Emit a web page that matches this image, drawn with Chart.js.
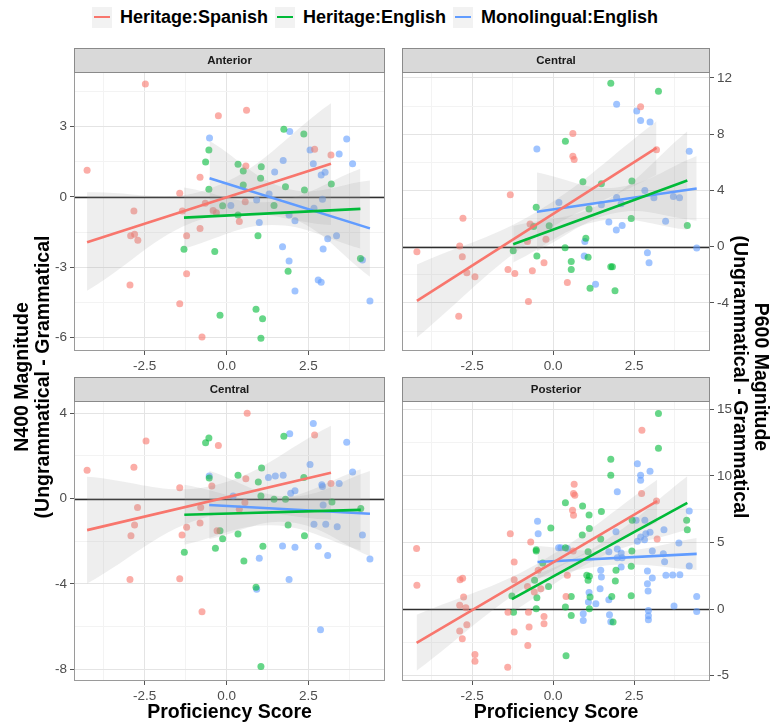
<!DOCTYPE html>
<html>
<head>
<meta charset="utf-8">
<script src="https://cdn.jsdelivr.net/npm/chart.js@4.4.1/dist/chart.umd.min.js"></script>
<style>
  body { margin: 0; background: #fff; width: 773px; height: 727px; position: relative; overflow: hidden;
         font-family: "Liberation Sans", Arial, sans-serif; }
  canvas { position: absolute; }
  .legend { position: absolute; left: 92px; top: 5px; height: 24px; display: flex; align-items: center;
            font-weight: bold; font-size: 18px; color: #000; white-space: nowrap; }
  .key { width: 20px; height: 21px; background: #f2f2f2; position: relative; margin-right: 8px; }
  .key i { position: absolute; left: 2px; right: 2px; top: 9.5px; height: 2px; }
  .item { margin-right: 7px; }
  .ytitle { position: absolute; width: 420px; height: 42px; line-height: 21px; text-align: center;
            font-weight: bold; font-size: 19.5px; color: #000; white-space: nowrap; }
  .xtitle { position: absolute; top: 699px; width: 300px; text-align: center; line-height: 24px;
            font-weight: bold; font-size: 19.5px; color: #000; }
</style>
</head>
<body>

<div class="legend">
  <div class="key"><i style="background:#F8766D"></i></div><span class="item">Heritage:Spanish</span>
  <div class="key"><i style="background:#00BA38"></i></div><span class="item">Heritage:English</span>
  <div class="key"><i style="background:#619CFF"></i></div><span class="item">Monolingual:English</span>
</div>

<canvas id="ant" width="400" height="335" style="left:0;top:40px"></canvas>
<canvas id="p6c" width="383" height="335" style="left:390px;top:40px"></canvas>
<canvas id="n4c" width="400" height="335" style="left:0;top:370px"></canvas>
<canvas id="post" width="383" height="335" style="left:390px;top:370px"></canvas>

<div class="ytitle" style="left:-178.5px;top:356px;transform:rotate(-90deg)">N400 Magnitude<br>(Ungrammatical - Grammatical</div>
<div class="ytitle" style="left:541px;top:356px;transform:rotate(90deg)">P600 Magnitude<br>(Ungrammatical - Grammatical</div>
<div class="xtitle" style="left:79.5px">Proficiency Score</div>
<div class="xtitle" style="left:406px">Proficiency Score</div>

<script>
// shared x axis (proficiency score)
const xRange = [-4.66, 4.84];
const xMajor = [-2.5, 0, 2.5];
const xMinor = [-3.75, -1.25, 1.25, 3.75];

const groupColors = ['#F8766D', '#00BA38', '#619CFF'];
const pointColors = ['rgba(248,118,109,0.6)', 'rgba(0,186,56,0.6)', 'rgba(97,156,255,0.6)'];

// ---- N400, Anterior ----
const antYRange = [-6.57, 5.33];
const antYMajor = [-6, -3, 0, 3];
const antYMinor = [-4.5, -1.5, 1.5, 4.5];
const antSpanish = [[-4.26,1.14],[-2.48,4.82],[-2.83,-0.60],[-2.93,-1.65],[-2.81,-1.59],[-2.71,-1.85],[-2.95,-3.75],
  [-1.43,0.16],[-1.43,-4.56],[-1.22,-1.65],[-1.22,-3.27],[-0.81,0.84],[-0.81,-1.34],[-0.75,-5.97],[-0.25,3.46],
  [0.61,3.70],[0.59,1.32],[0.57,-0.20],[0.39,-1.05],[-0.41,-0.58],[-0.31,-0.67],[-0.65,-0.27],[2.69,2.03],
  [3.19,1.79],[-1.35,-0.60]];
const antEnglish = [[-0.54,2.00],[-0.64,1.49],[-0.54,0.33],[-1.30,-2.23],[-0.36,-2.33],[-0.20,-5.05],[-0.12,-0.38],
  [0.35,1.39],[0.51,1.11],[0.51,0.51],[0.35,-0.77],[1.06,1.29],[1.04,0.80],[0.96,-1.65],[0.90,-4.79],[1.10,-5.19],
  [1.05,-6.03],[1.45,-0.36],[1.75,2.89],[1.80,0.44],[1.88,-3.17],[2.36,2.69],[2.38,0.30],[3.20,0.55],[4.09,-2.62]];
const antMono = [[-0.52,2.52],[0.13,-0.36],[1.00,-1.09],[0.92,-0.13],[1.30,0.13],[1.47,1.07],[1.73,1.55],[1.93,2.79],
  [1.91,-0.77],[2.09,-1.01],[1.71,-2.12],[1.91,-2.73],[2.09,-4.01],[2.55,2.00],[2.65,1.42],[2.67,-0.48],[2.89,0.94],
  [3.01,1.05],[2.93,-0.10],[2.95,-2.22],[3.09,-1.78],[2.80,-3.54],[2.89,-3.64],[3.44,1.83],[3.36,-1.65],[3.67,2.47],
  [3.85,1.42],[4.15,-2.69],[4.38,-4.44]];
const antFits = [[[-4.26,-1.93],[3.19,1.42]], [[-1.30,-0.88],[4.09,-0.51]], [[-0.52,0.80],[4.38,-1.34]]];
// band rows: [x, lower, upper]
const antBands = [
  [[-4.26,-4.0,0.2],[-0.5,-0.84,0.36],[3.19,-1.2,4.0]],
  [[-1.30,-2.2,0.4],[1.40,-1.2,-0.2],[4.09,-2.2,1.2]],
  [[-0.52,-0.8,2.4],[1.93,-0.87,0.33],[4.38,-3.4,0.7]]
];

// ---- P600, Central ----
const p6cYRange = [-7.42, 12.42];
const p6cYMajor = [-4, 0, 4, 8, 12];
const p6cYMinor = [-6, -2, 2, 6, 10];
const p6cSpanish = [[-4.20,-0.36],[-2.88,0.05],[-2.80,-0.71],[-2.78,2.02],[-2.66,-1.86],[-2.41,-2.14],[-2.91,-4.95],
  [-1.32,3.69],[-1.39,-1.62],[-1.18,-1.90],[-0.76,-3.90],[-0.71,1.62],[-0.64,-1.71],[-0.28,-1.14],[-0.22,0.52],
  [0.44,-2.55],[0.61,8.05],[0.61,6.43],[0.65,6.19],[2.70,9.95],[3.19,6.90],[-0.79,0.36]];
const p6cEnglish = [[1.78,11.62],[3.25,11.05],[0.38,7.50],[0.92,4.62],[2.43,4.67],[-0.52,2.81],[-0.12,1.48],[-0.60,1.43],
  [-1.23,-0.29],[-0.50,-0.67],[0.37,-0.07],[0.56,-1.05],[0.56,-1.62],[1.01,0.60],[1.08,-0.76],[1.11,2.67],[1.14,-2.95],
  [1.78,-1.43],[1.83,-1.43],[1.91,-3.14],[2.41,2.00],[4.14,1.50],[1.49,4.48]];
const p6cMono = [[-0.50,6.95],[1.96,10.12],[2.58,9.64],[2.70,8.98],[2.99,8.86],[0.18,3.14],[0.98,0.36],[0.96,-0.67],
  [1.31,-2.67],[1.72,1.76],[1.95,1.19],[2.13,1.50],[1.96,3.50],[2.10,3.05],[1.49,2.98],[2.83,4.00],[2.91,-0.43],
  [2.96,-1.14],[3.11,3.48],[3.47,1.81],[3.71,3.57],[3.90,3.48],[4.20,6.79],[4.43,-0.10]];
const p6cFits = [[[-4.20,-3.86],[3.19,7.02]], [[-1.23,0.17],[4.14,4.71]], [[-0.50,2.48],[4.43,4.14]]];
const p6cBands = [
  [[-4.20,-6.46,-1.26],[-0.5,0.69,2.49],[3.19,5.12,8.92]],
  [[-1.23,-1.13,1.47],[1.45,1.84,3.04],[4.14,1.21,8.21]],
  [[-0.50,-0.32,5.28],[1.96,2.41,4.21],[4.43,1.84,6.44]]
];

// ---- N400, Central ----
const n4cYRange = [-8.55, 4.57];
const n4cYMajor = [-8, -4, 0, 4];
const n4cYMinor = [-6, -2, 2];
const n4cSpanish = [[-4.26,1.32],[-2.83,1.46],[-2.46,2.69],[-2.72,-0.42],[-2.81,-1.24],[-2.92,-1.74],[-2.95,-3.79],
  [-1.43,0.50],[-1.36,-1.71],[-1.22,-1.35],[-1.43,-3.76],[-0.81,-1.15],[-0.79,-0.42],[-0.75,-5.31],[-0.45,0.59],
  [-0.25,2.48],[-0.29,-1.51],[0.59,0.93],[0.63,4.00],[0.39,-0.50],[0.56,-0.19],[2.69,2.98],[3.19,0.71]];
const n4cEnglish = [[-0.64,2.61],[-0.54,2.84],[-0.53,0.96],[-1.29,-2.52],[-0.34,-2.33],[-0.20,-1.51],[-0.12,-1.89],
  [0.35,1.09],[0.35,-1.66],[0.53,-2.93],[0.97,0.78],[1.07,1.43],[1.05,0.12],[1.11,-2.24],[0.90,-4.16],[1.05,-7.87],
  [1.45,-0.03],[1.75,2.92],[1.80,-0.03],[1.88,-1.24],[2.36,0.98],[2.38,-1.74],[3.22,-0.16],[4.10,-0.47]];
const n4cMono = [[-0.53,1.06],[0.20,0.12],[1.00,-2.80],[0.92,-4.25],[1.28,0.99],[1.49,1.06],[1.73,1.09],[1.93,3.03],
  [1.96,0.25],[2.09,0.36],[1.71,-2.22],[2.09,-2.28],[1.91,-3.79],[2.55,1.60],[2.65,3.51],[2.67,-1.20],[2.80,-2.24],
  [2.91,0.65],[2.93,0.56],[2.95,-0.30],[3.03,-1.21],[3.09,-2.67],[2.87,-6.15],[3.38,-1.32],[3.44,0.70],[3.67,2.64],
  [3.85,1.24],[4.15,-1.71],[4.38,-2.83]];
const n4cFits = [[[-4.26,-1.48],[3.19,1.21]], [[-1.29,-0.76],[4.10,-0.53]], [[-0.53,-0.30],[4.38,-0.71]]];
const n4cBands = [
  [[-4.26,-3.98,1.02],[-0.5,-0.82,0.58],[3.19,-0.99,3.41]],
  [[-1.29,-2.16,0.64],[1.40,-1.25,-0.05],[4.10,-2.43,1.37]],
  [[-0.53,-1.90,1.30],[1.93,-1.11,0.09],[4.38,-2.71,1.29]]
];

// ---- P600, Posterior ----
const postYRange = [-5.4, 15.62];
const postYMajor = [-5, 0, 5, 10, 15];
const postYMinor = [-2.5, 2.5, 7.5, 12.5];
const postSpanish = [[-4.21,4.54],[-4.20,1.78],[-2.87,2.21],[-2.79,2.31],[-2.76,0.90],[-2.88,0.28],[-2.69,0.10],
  [-2.66,-1.18],[-2.88,-1.65],[-2.80,-2.23],[-2.41,-3.41],[-2.41,-3.91],[-1.40,-4.36],[-1.32,5.66],[-1.20,3.53],
  [-1.20,2.21],[-1.39,-0.23],[-1.20,-1.73],[-0.78,-2.73],[-0.76,-0.23],[-0.79,1.70],[-0.69,5.04],[-0.74,-1.35],
  [-0.28,-0.55],[-0.28,-1.10],[-0.46,2.91],[-0.38,1.53],[-0.58,1.28],[0.65,9.37],[0.63,8.67],[0.67,8.55],[0.60,7.42],
  [0.63,7.04],[0.44,2.53],[0.40,0.95],[0.62,4.36],[2.74,13.43],[2.73,8.67],[3.19,8.12],[3.21,5.26]];
const postEnglish = [[3.25,14.69],[3.25,12.08],[1.78,11.25],[1.78,10.05],[0.38,7.99],[0.91,7.74],[1.11,7.07],[1.49,7.32],
  [-0.07,6.09],[0.90,5.56],[1.12,6.04],[1.47,5.26],[-0.52,4.46],[-0.52,4.36],[0.38,4.61],[1.08,4.31],[2.43,4.36],
  [2.41,3.21],[-0.32,3.46],[-0.57,2.16],[-0.14,1.70],[1.04,2.53],[1.12,2.46],[1.08,2.16],[1.94,2.91],[1.92,2.11],
  [1.81,0.95],[2.41,1.00],[-1.27,0.98],[-1.22,-0.23],[-0.52,0.03],[-0.50,0.85],[0.38,0.15],[0.56,0.95],[0.56,-0.48],
  [1.12,0.03],[1.14,0.90],[1.85,-0.98],[0.40,-3.51],[4.12,6.67],[4.14,5.96],[2.44,6.67]];
const postMono = [[2.60,10.90],[2.99,10.35],[2.70,10.05],[2.70,9.67],[1.98,8.80],[-0.48,6.59],[-0.46,5.66],[0.17,4.61],
  [0.24,4.61],[0.44,4.54],[1.94,5.81],[1.72,4.31],[1.98,4.51],[2.10,4.21],[2.13,3.86],[1.98,3.86],[1.47,2.91],
  [1.49,2.41],[2.10,3.16],[2.60,5.09],[2.70,5.41],[2.82,5.21],[2.86,5.66],[2.99,5.76],[2.56,6.67],[2.83,6.67],
  [3.42,5.96],[3.40,4.16],[3.44,3.56],[3.06,4.36],[2.91,2.86],[3.06,2.33],[2.91,1.90],[2.93,1.35],[3.48,2.53],
  [3.69,2.56],[3.91,2.58],[3.88,4.96],[4.20,7.37],[4.20,3.23],[4.43,0.95],[4.43,-0.18],[3.73,0.23],[2.94,-0.10],
  [2.94,-0.50],[2.94,-0.80],[1.74,-0.43],[1.78,-0.95],[1.32,0.40],[1.11,1.25],[0.93,-0.35],[0.93,-0.85],[1.45,1.53],
  [1.72,0.70],[1.09,0.53]];
const postFits = [[[-4.21,-2.53],[3.21,8.10]], [[-1.27,0.75],[4.14,7.97]], [[-0.48,3.53],[4.43,4.14]]];
const postBands = [
  [[-4.21,-4.63,-0.43],[-0.5,2.19,3.39],[3.21,6.50,9.70]],
  [[-1.27,-0.25,1.75],[1.43,3.86,4.86],[4.14,5.97,9.97]],
  [[-0.48,2.33,4.73],[1.97,3.33,4.33],[4.43,2.94,5.34]]
];

Chart.defaults.font.family = "'Liberation Sans', Arial, sans-serif";

// facet strip, panel frame and the zero reference line
const panelDecor = {
  id: 'panelDecor',
  beforeDatasetsDraw(chart) {
    const { ctx, chartArea: a, scales } = chart;
    const y0 = Math.round(scales.y.getPixelForValue(0)) + 0.5;
    ctx.save();
    ctx.strokeStyle = '#2e2e2e';
    ctx.lineWidth = 1.4;
    ctx.beginPath();
    ctx.moveTo(a.left, y0);
    ctx.lineTo(a.right, y0);
    ctx.stroke();
    ctx.restore();
  },
  afterDraw(chart, args, opts) {
    const { ctx, chartArea: a } = chart;
    const h = 24;
    ctx.save();
    ctx.strokeStyle = '#9a9a9a';
    ctx.lineWidth = 1;
    ctx.strokeRect(a.left + 0.5, a.top + 0.5, a.right - a.left - 1, a.bottom - a.top - 1);
    ctx.fillStyle = '#d9d9d9';
    ctx.fillRect(a.left, a.top - h, a.right - a.left, h);
    ctx.strokeStyle = '#8a8a8a';
    ctx.strokeRect(a.left + 0.5, a.top - h + 0.5, a.right - a.left - 1, h);
    ctx.fillStyle = '#1a1a1a';
    ctx.font = "bold 11.5px 'Liberation Sans', Arial, sans-serif";
    ctx.textAlign = 'center';
    ctx.textBaseline = 'middle';
    ctx.fillText(opts.title, (a.left + a.right) / 2, a.top - h / 2 + 1);
    ctx.restore();
  }
};

function axis(range, major, minor, fmt, extra) {
  const all = major.concat(minor).sort((p, q) => p - q);
  return Object.assign({
    type: 'linear',
    min: range[0],
    max: range[1],
    afterBuildTicks: (s) => { s.ticks = all.map(v => ({ value: v })); },
    ticks: {
      autoSkip: false,
      maxRotation: 0,
      color: '#4d4d4d',
      font: { size: 13.5 },
      callback: (v) => major.includes(v) ? fmt(v) : ''
    },
    grid: {
      color: (c) => major.includes(c.tick.value) ? '#e4e4e4' : '#f3f3f3',
      tickColor: (c) => major.includes(c.tick.value) ? '#555' : 'rgba(0,0,0,0)',
      tickLength: 4
    },
    border: { display: false }
  }, extra);
}

function makePanel(id, title, side, yRange, yMajor, yMinor, groups, fits, bands) {
  const canvas = document.getElementById(id);
  const padTop = id === 'ant' || id === 'p6c' ? 32 : 31;
  const datasets = [];
  groups.forEach((pts, g) => {
    datasets.push({
      type: 'scatter',
      data: pts.map(p => ({ x: p[0], y: p[1] })),
      backgroundColor: pointColors[g],
      borderWidth: 0,
      pointRadius: 3.5,
      order: 3
    });
  });
  bands.forEach((rows) => {
    datasets.push({
      type: 'line',
      data: rows.map(r => ({ x: r[0], y: r[2] })),
      borderColor: 'rgba(0,0,0,0)',
      borderWidth: 0,
      backgroundColor: 'rgba(153,153,153,0.17)',
      pointRadius: 0,
      tension: 0.4,
      fill: '+1',
      order: 2
    });
    datasets.push({
      type: 'line',
      data: rows.map(r => ({ x: r[0], y: r[1] })),
      borderColor: 'rgba(0,0,0,0)',
      borderWidth: 0,
      pointRadius: 0,
      tension: 0.4,
      fill: false,
      order: 2
    });
  });
  fits.forEach((f, g) => {
    datasets.push({
      type: 'line',
      data: f.map(p => ({ x: p[0], y: p[1] })),
      borderColor: groupColors[g],
      borderWidth: 2.6,
      pointRadius: 0,
      fill: false,
      order: 1
    });
  });

  const yWidth = side === 'left' ? 74 : 63;
  new Chart(canvas.getContext('2d'), {
    type: 'scatter',
    data: { datasets: datasets },
    options: {
      responsive: false,
      animation: false,
      events: [],
      layout: { padding: side === 'left' ? { top: padTop, left: 0, right: 15, bottom: 0 }
                                        : { top: padTop, left: 12, right: 0, bottom: 0 } },
      plugins: { legend: { display: false }, tooltip: { enabled: false }, panelDecor: { title: title } },
      scales: {
        x: axis(xRange, xMajor, xMinor, v => v.toFixed(1), {
          position: 'bottom',
          afterFit: (s) => { s.height = 24; }
        }),
        y: axis(yRange, yMajor, yMinor, v => String(v), {
          position: side,
          afterFit: (s) => { s.width = yWidth; }
        })
      }
    },
    plugins: [panelDecor]
  });
}

makePanel('ant', 'Anterior', 'left', antYRange, antYMajor, antYMinor,
  [antSpanish, antEnglish, antMono], antFits, antBands);
makePanel('p6c', 'Central', 'right', p6cYRange, p6cYMajor, p6cYMinor,
  [p6cSpanish, p6cEnglish, p6cMono], p6cFits, p6cBands);
makePanel('n4c', 'Central', 'left', n4cYRange, n4cYMajor, n4cYMinor,
  [n4cSpanish, n4cEnglish, n4cMono], n4cFits, n4cBands);
makePanel('post', 'Posterior', 'right', postYRange, postYMajor, postYMinor,
  [postSpanish, postEnglish, postMono], postFits, postBands);
</script>
</body>
</html>
